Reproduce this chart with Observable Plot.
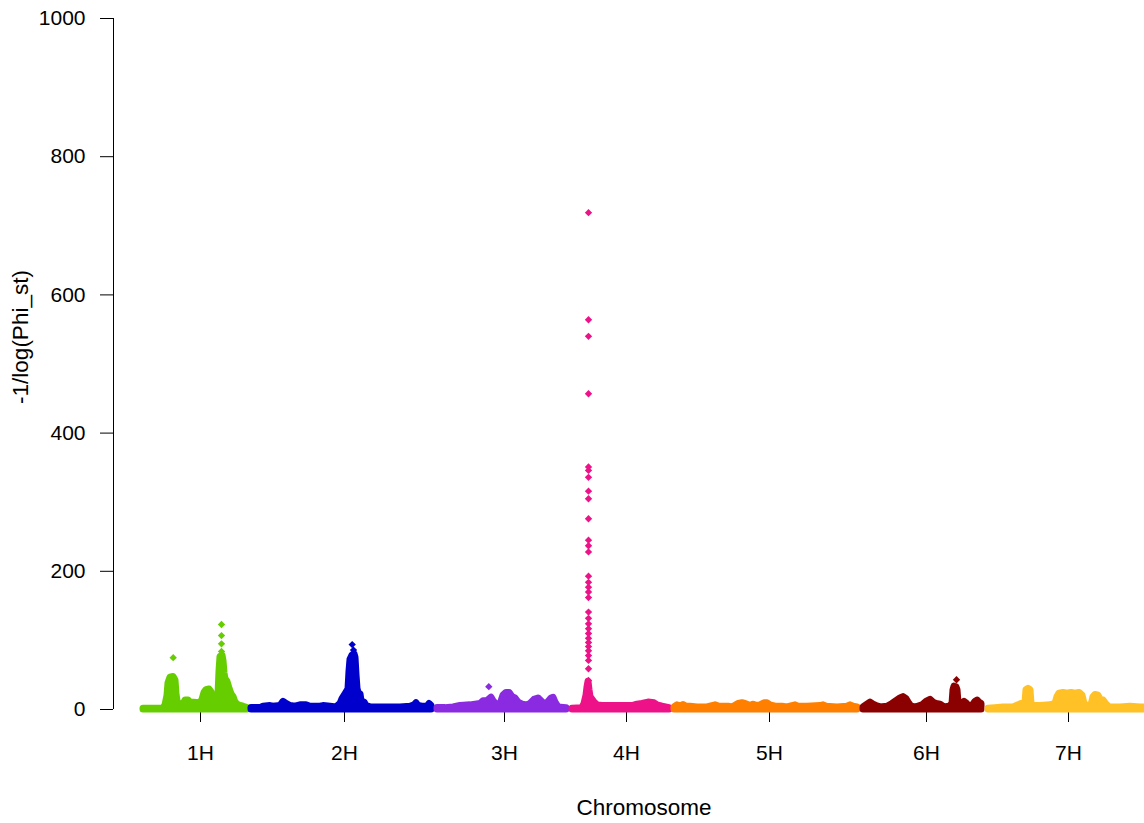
<!DOCTYPE html>
<html>
<head>
<meta charset="utf-8">
<script src="https://cdn.jsdelivr.net/npm/d3@7"></script>
<script src="https://cdn.jsdelivr.net/npm/@observablehq/plot@0.6"></script>
<style>
  html, body { margin: 0; padding: 0; background: #ffffff; }
  #chart { width: 1144px; height: 823px; }
</style>
</head>
<body>
<div id="chart"></div>
<script>
// ---- Data ----
const chromosomes = ["1H", "2H", "3H", "4H", "5H", "6H", "7H"];
const chromLengths = [110, 185, 135, 102, 188, 125, 162];     // map units along the genome
const labelPositions = [60, 94, 69, 56, 97, 66, 83];          // label position within each chromosome
const chromColors = ["#66CD00", "#0000CD", "#8A2BE2", "#EE1289", "#FF7F00", "#8B0000", "#FFC125"];
const yTicks = [0, 200, 400, 600, 800, 1000];

// Upper envelope of the dense marker cloud: [position within chromosome, -1/log(Phi_st)]
const env1H = [[3,1],[23,1],[25,6],[27,20],[28,38],[30,46],[33,47],[35,42],[36,22],[37,12],[39,7],[43,7],[45,13],[48,13],[50,10],[60,9],[62,14],[64,24],[66,28],[69,29],[71,25],[73,14],[75,8],[77,9],[78,20],[79,55],[80,76],[82,78],[83,70],[84,52],[85,44],[87,40],[89,30],[91,22],[93,18],[95,10],[98,6],[103,4],[107,2]];
const env2H = [[1,2],[10,2],[13,4],[20,5],[23,4],[30,5],[33,11],[36,8],[40,5],[45,4],[50,6],[56,6],[60,4],[70,4],[73,5],[80,4],[86,3],[90,8],[92,15],[95,22],[98,29],[99,55],[100,72],[102,78],[104,80],[105,75],[106,50],[107,30],[108,24],[110,22],[111,12],[114,10],[116,5],[120,3],[130,3],[140,3],[150,3],[160,4],[164,6],[166,9],[168,5],[172,4],[177,4],[179,8],[181,5]];
const env3H = [[2,2],[10,2],[18,3],[25,5],[35,6],[45,8],[48,12],[52,12],[56,17],[58,12],[61,7],[65,7],[68,20],[71,24],[74,24],[77,18],[80,16],[83,10],[87,7],[92,6],[95,8],[99,14],[103,16],[106,12],[109,8],[112,9],[116,16],[118,17],[120,10],[123,3],[131,2]];
const env4H = [[2,1],[12,2],[14,8],[16,20],[17,32],[18,40],[19,28],[20,18],[22,14],[24,10],[27,6],[32,5],[43,5],[50,5],[62,5],[67,7],[72,8],[78,10],[84,9],[87,6],[92,4],[99,2]];
const env5H = [[2,3],[5,6],[8,4],[11,6.5],[14,4],[18,4],[25,3],[35,3],[40,5],[43,6],[47,4],[56,4],[60,3],[66,8],[70,9],[73,8],[78,5],[81,7],[84,5],[88,6],[92,9],[95,9],[98,6],[103,4],[110,4],[115,3],[120,5],[123,6],[126,4],[135,4],[148,5],[151,6],[154,4],[165,3],[175,4],[178,6],[181,4],[185,3]];
const env6H = [[3,3],[7,7],[10,10],[13,7],[16,5],[20,3],[27,4],[32,8],[36,12],[40,16],[43,18],[46,15],[48,10],[51,4],[56,3],[62,6],[66,11],[70,14],[73,10],[76,8],[80,7],[84,3],[89,4],[92,8],[93,28],[94,33],[96,32],[97,28],[98,9],[101,8],[104,11],[106,9],[109,4],[112,5],[115,11],[117,13],[119,10],[121,8]];
const env7H = [[3,1],[10,2],[18,3],[28,3],[33,6],[36,8],[38,5],[40,10],[41,28],[43,30],[45,28],[46,8],[48,5],[55,5],[65,6],[70,8],[72,18],[74,23],[78,24],[82,23],[86,24],[90,23],[94,24],[97,20],[99,8],[101,5],[106,6],[108,18],[110,21],[113,20],[115,14],[118,13],[121,7],[124,3],[135,3],[145,4],[155,3],[160,3]];

// Isolated markers standing above the cloud: [position within chromosome, value]
const peaks1H = [[32.7,75],[81,84],[81,95],[81,107],[81,123]];
const peaks2H = [[101.7,94],[103,86]];
const peaks3H = [[53.3,33]];
const peaks4H = [719,564,540,457,351,346,336,316,305,276,245,237,228,193,184,177,170,162,141,132,124,117,110,103,97,91,85,78,71,59,42].map(v => [18, v]);
const peaks5H = [];
const peaks6H = [[96,43]];
const peaks7H = [];

// ---- Build tables ----
const envelopes = [env1H, env2H, env3H, env4H, env5H, env6H, env7H];
const peakLists = [peaks1H, peaks2H, peaks3H, peaks4H, peaks5H, peaks6H, peaks7H];
const offsets = [0, ...d3.cumsum(chromLengths)].slice(0, chromosomes.length);

const cloud = [];
envelopes.forEach((env, i) => env.forEach(([p, v]) => cloud.push({chrom: chromosomes[i], pos: offsets[i] + p, value: v})));
const peaks = [];
peakLists.forEach((list, i) => list.forEach(([p, v]) => peaks.push({chrom: chromosomes[i], pos: offsets[i] + p, value: v})));
const labelTicks = labelPositions.map((p, i) => offsets[i] + p);
const tickName = new Map(labelTicks.map((t, i) => [t, chromosomes[i]]));
const xMin = -27, xMax = 1004;

const fontFamily = "'Liberation Sans', Arial, sans-serif";
const chart = Plot.plot({
  width: 1144,
  height: 823,
  marginLeft: 113,
  marginRight: 0,
  marginTop: 18,
  marginBottom: 114,
  x: {domain: [xMin, xMax], axis: null},
  y: {domain: [0, 1000], axis: null},
  color: {domain: chromosomes, range: chromColors},
  style: {fontFamily, fontSize: "21px", color: "black", background: "white", overflow: "hidden"},
  marks: [
    Plot.ruleX([xMin], {y1: 0, y2: 1000, stroke: "black", strokeWidth: 1}),
    Plot.axisY(yTicks, {tickSize: 13, tickPadding: 15, fontSize: 21, label: null, stroke: "black", tickFormat: d3.format("d")}),
    Plot.axisX(labelTicks, {tickSize: 13, tickPadding: 23, fontSize: 21, label: null, tickFormat: d => tickName.get(d), stroke: "black"}),
    Plot.areaY(cloud, {x: "pos", y: "value", z: "chrom", fill: "chrom", stroke: "chrom", strokeWidth: 7, strokeLinejoin: "round"}),
    Plot.dot(peaks, {x: "pos", y: "value", fill: "chrom", symbol: "diamond2", r: 3.3}),
    Plot.text(["Chromosome"], {frameAnchor: "bottom", dx: 15, dy: 98, lineAnchor: "middle", textAnchor: "middle", fontSize: 22.5, fill: "black"}),
    Plot.text(["-1/log(Phi_st)"], {frameAnchor: "left", rotate: -90, dx: -93, dy: -27, lineAnchor: "middle", textAnchor: "middle", fontSize: 22.5, fill: "black"})
  ]
});
document.getElementById("chart").appendChild(chart);
</script>
</body>
</html>
